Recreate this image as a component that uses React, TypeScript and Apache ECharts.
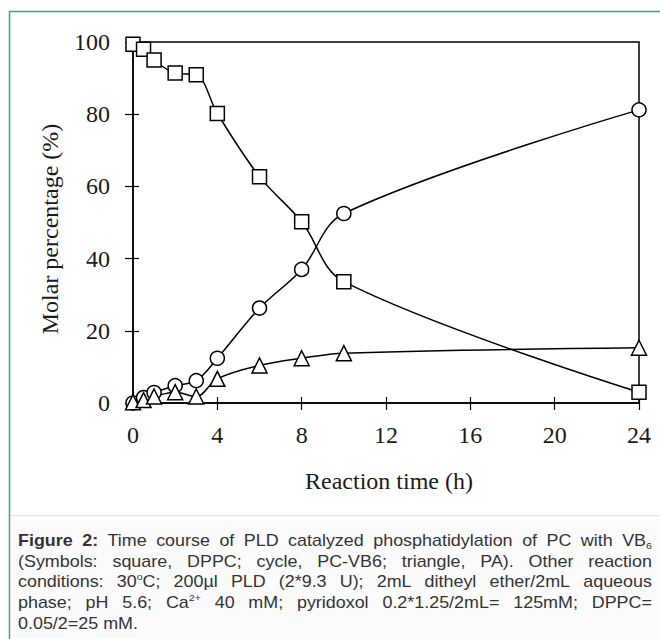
import React, { useEffect, useRef } from "react";
import * as echarts from "echarts";

const SERIF = '"Liberation Serif", "Times New Roman", serif';
const SANS = '"Liberation Sans", Arial, sans-serif';

// Reaction time (h)
const times = [0, 0.5, 1, 2, 3, 4, 6, 8, 10, 24];
// Molar percentage (%)
const dppc = [99.4, 98, 95, 91.4, 90.9, 80.2, 62.7, 50.2, 33.6, 3];
const pcvb6 = [0, 1.5, 2.9, 4.8, 6.2, 12.4, 26.3, 37, 52.5, 81.2];
const pa = [0.2, 0.8, 1.8, 3.0, 1.8, 6.7, 10.4, 12.4, 13.8, 15.3];

const xTitle = "Reaction time (h)";
const yTitle = "Molar percentage (%)";

// caption: *bold*, ^{sup}, _{sub}
const captionLines = [
  "*Figure* *2:* Time course of PLD catalyzed phosphatidylation of PC with VB_{6}",
  "(Symbols: square, DPPC; cycle, PC-VB6; triangle, PA). Other reaction",
  "conditions: 30^{o}C; 200µl PLD (2*9.3 U); 2mL ditheyl ether/2mL aqueous",
  "phase; pH 5.6; Ca^{2+} 40 mM; pyridoxol 0.2*1.25/2mL= 125mM; DPPC=",
  "0.05/2=25 mM.",
];

type Seg = { t: string; kind: "n" | "b" | "sup" | "sub" };

function parseWord(w: string): Seg[] {
  const out: Seg[] = [];
  const re = /(\^\{[^}]+\}|_\{[^}]+\})/g;
  let bold = false;
  let word = w;
  if (/^\*[^*]+\*$/.test(word)) {
    bold = true;
    word = word.slice(1, -1);
  }
  let last = 0;
  let m: RegExpExecArray | null;
  while ((m = re.exec(word))) {
    if (m.index > last) out.push({ t: word.slice(last, m.index), kind: bold ? "b" : "n" });
    const tok = m[0];
    out.push({ t: tok.slice(2, -1), kind: tok[0] === "^" ? "sup" : "sub" });
    last = m.index + tok.length;
  }
  if (last < word.length) out.push({ t: word.slice(last), kind: bold ? "b" : "n" });
  return out;
}

const CAP_SIZE = 16;
const SMALL_SIZE = 9.5;

function buildCaption(): any[] {
  const canvas = document.createElement("canvas");
  const ctx = canvas.getContext("2d")!;
  const fam = SANS;
  const rawWidth = (s: Seg) => {
    const size = s.kind === "sup" || s.kind === "sub" ? SMALL_SIZE : CAP_SIZE;
    const weight = s.kind === "b" ? "bold" : "normal";
    ctx.font = `${weight} ${size}px ${fam}`;
    return ctx.measureText(s.t).width;
  };
  const left = 18;
  const right = 652;
  const top = 541;
  const lh = 20.6;

  // fit the face so that the first line sits at near-natural spacing
  ctx.font = `normal ${CAP_SIZE}px ${fam}`;
  const rawGap = ctx.measureText(" ").width;
  const firstWords = captionLines[0].split(" ").map(parseWord);
  const firstNat =
    firstWords.reduce((acc, segs) => acc + segs.reduce((p, s) => p + rawWidth(s), 0), 0) +
    rawGap * (firstWords.length - 1);
  const scale = Math.max(0.8, Math.min(1.12, (0.985 * (right - left)) / firstNat));
  const segWidth = (s: Seg) => rawWidth(s) * scale;

  const els: any[] = [];
  captionLines.forEach((line, li) => {
    const words = line.split(" ").map(parseWord);
    const widths = words.map((segs) => segs.reduce((acc, s) => acc + segWidth(s), 0));
    const total = widths.reduce((p, q) => p + q, 0);
    const natGap = rawGap * scale;
    const justify = li < captionLines.length - 1;
    const gap = justify && words.length > 1 ? (right - left - total) / (words.length - 1) : natGap;
    let x = left;
    const y = top + li * lh;
    words.forEach((segs) => {
      segs.forEach((s) => {
        const small = s.kind === "sup" || s.kind === "sub";
        els.push({
          type: "text",
          x,
          y: y + (s.kind === "sup" ? -5 : s.kind === "sub" ? 5 : 0),
          scaleX: scale,
          silent: true,
          style: {
            text: s.t,
            fontFamily: fam,
            fontSize: small ? SMALL_SIZE : CAP_SIZE,
            fontWeight: s.kind === "b" ? "bold" : "normal",
            fill: "#333333",
            align: "left",
            verticalAlign: "middle",
          },
        });
        x += segWidth(s);
      });
      x += gap;
    });
  });
  return els;
}

export default function App() {
  const ref = useRef<HTMLDivElement>(null);
  useEffect(() => {
    if (!ref.current) return;
    const chart = echarts.init(ref.current, undefined, { renderer: "svg" });
    const mk = (vals: number[]) => times.map((t, i) => [t, vals[i]]);
    const markerStyle = { color: "#ffffff", borderColor: "#000000", borderWidth: 1.5 };
    const lineStyle = { color: "#000000", width: 1.5 };
    const series: any[] = [
      { name: "DPPC", data: mk(dppc), symbol: "rect", symbolSize: 14 },
      { name: "PC-VB6", data: mk(pcvb6), symbol: "circle", symbolSize: 14 },
      { name: "PA", data: mk(pa), symbol: "triangle", symbolSize: 15 },
    ].map((s) => ({
      ...s,
      type: "line",
      xAxisIndex: 0,
      yAxisIndex: 0,
      smooth: 0.35,
      clip: false,
      showAllSymbol: true,
      itemStyle: markerStyle,
      lineStyle,
      emphasis: { disabled: true },
    }));

    const labelStyle = { fontFamily: SERIF, fontSize: 24, color: "#1a1a1a" };
    const option: any = {
      animation: false,
      backgroundColor: "#ffffff",
      grid: {
        left: 133,
        top: 42,
        width: 506,
        height: 361,
        show: true,
        borderColor: "#000000",
        borderWidth: 1.5,
        containLabel: false,
      },
      xAxis: [
        {
          type: "value",
          min: 0,
          max: 24,
          interval: 4,
          position: "bottom",
          axisLine: { show: true, onZero: false, lineStyle: { color: "#000", width: 1.5 } },
          axisTick: { show: true, inside: false, length: 7, lineStyle: { color: "#000", width: 1.2 } },
          axisLabel: { ...labelStyle, margin: 20 },
          splitLine: { show: false },
        },
        {
          type: "value",
          min: 0,
          max: 24,
          interval: 4,
          position: "bottom",
          axisLine: { show: false },
          axisTick: { show: true, inside: true, length: 6, lineStyle: { color: "#000", width: 1.2 } },
          axisLabel: { show: false },
          splitLine: { show: false },
        },
      ],
      yAxis: [
        {
          type: "value",
          min: 0,
          max: 100,
          interval: 20,
          position: "left",
          axisLine: { show: true, onZero: false, lineStyle: { color: "#000", width: 1.5 } },
          axisTick: { show: true, inside: false, length: 8, lineStyle: { color: "#000", width: 1.2 } },
          axisLabel: { ...labelStyle, margin: 23 },
          splitLine: { show: false },
        },
        {
          type: "value",
          min: 0,
          max: 100,
          interval: 20,
          position: "left",
          axisLine: { show: false },
          axisTick: { show: true, inside: true, length: 6, lineStyle: { color: "#000", width: 1.2 } },
          axisLabel: { show: false },
          splitLine: { show: false },
        },
      ],
      series,
      graphic: [
        {
          type: "rect",
          z: -10,
          silent: true,
          shape: { x: 9.5, y: 11.5, width: 700, height: 700 },
          style: { fill: "none", stroke: "#2aa898", lineWidth: 1.5 },
        },
        {
          type: "rect",
          z: -9,
          silent: true,
          shape: { x: 10.5, y: 515.5, width: 700, height: 200 },
          style: { fill: "#fbfbfb", stroke: "#e2e2e2", lineWidth: 1 },
        },
        {
          type: "text",
          x: 50,
          y: 229,
          rotation: Math.PI / 2,
          silent: true,
          style: {
            text: yTitle,
            fontFamily: SERIF,
            fontSize: 24,
            fill: "#1a1a1a",
            align: "center",
            verticalAlign: "middle",
          },
        },
        {
          type: "text",
          x: 389,
          y: 481,
          silent: true,
          style: {
            text: xTitle,
            fontFamily: SERIF,
            fontSize: 24,
            fill: "#1a1a1a",
            align: "center",
            verticalAlign: "middle",
          },
        },
        ...buildCaption(),
      ],
    };
    chart.setOption(option);
    return () => chart.dispose();
  }, []);
  return (
    <div
      ref={ref}
      style={{ position: "fixed", left: 0, top: 0, width: 660, height: 639, background: "#fff" }}
    />
  );
}
